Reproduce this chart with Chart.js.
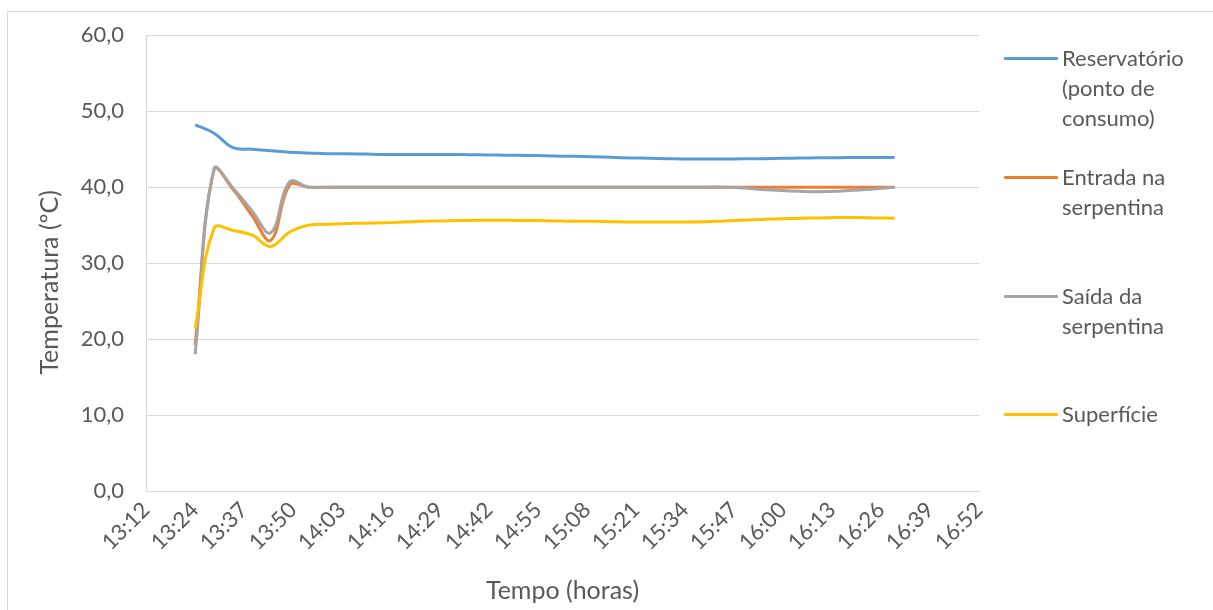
<!DOCTYPE html>
<html>
<head>
<meta charset="utf-8">
<script src="https://cdn.jsdelivr.net/npm/chart.js@4/dist/chart.umd.min.js"></script>
<style>
  html, body { margin: 0; padding: 0; background: #fff; overflow: hidden; }
  #wrap { position: relative; width: 1213px; height: 610px; }
  #frame { position: absolute; left: 7px; top: 11px; width: 1300px; height: 700px; border: 1px solid #d9d9d9; }
  #chart { position: absolute; left: 0; top: 0; }
  .legend-item { position: absolute; left: 1004px; font-family: Lato, sans-serif; font-size: 22px; line-height: 30px; color: #595959; }
  .legend-item .swatch { position: absolute; left: 0; top: 14px; width: 54px; height: 3px; border-radius: 1px; }
  .legend-item .label { margin-left: 58px; }
</style>
</head>
<body>
<div id="wrap">
  <div id="frame"></div>
  <canvas id="chart" width="1213" height="610"></canvas>
  <div id="legend"></div>
</div>
<script>
// readings taken every 5 minutes
const times = ['13:25','13:30','13:35','13:40','13:45','13:50','13:55',
  '14:00','14:05','14:10','14:15','14:20','14:25','14:30','14:35','14:40','14:45','14:50','14:55',
  '15:00','15:05','15:10','15:15','15:20','15:25','15:30','15:35','15:40','15:45','15:50','15:55',
  '16:00','16:05','16:10','16:15','16:20','16:25','16:30'];

const reservatorio = [48.2, 47.1, 45.2, 45.0, 44.8, 44.6, 44.5,
  44.4, 44.4, 44.35, 44.3, 44.3, 44.3, 44.3, 44.28, 44.25, 44.22, 44.2, 44.15,
  44.1, 44.05, 44.0, 43.92, 43.85, 43.8, 43.75, 43.7, 43.7, 43.7, 43.72, 43.75,
  43.8, 43.83, 43.86, 43.88, 43.9, 43.9, 43.9];

const entrada = [19.2, 42.3, 39.7, 36.3, 33.0, 40.3, 40.0,
  40.0, 40.0, 40.0, 40.0, 40.0, 40.0, 40.0, 40.0, 40.0, 40.0, 40.0, 40.0,
  40.0, 40.0, 40.0, 40.0, 40.0, 40.0, 40.0, 40.0, 40.0, 40.0, 40.0, 40.0,
  40.0, 40.0, 40.0, 40.0, 40.0, 40.0, 40.0];

const saida = [18.0, 42.4, 39.9, 36.9, 34.0, 40.7, 40.0,
  40.0, 40.0, 40.0, 40.0, 40.0, 40.0, 40.0, 40.0, 40.0, 40.0, 40.0, 40.0,
  40.0, 40.0, 40.0, 40.0, 40.0, 40.0, 40.0, 40.0, 40.0, 40.0, 39.9, 39.7,
  39.55, 39.45, 39.4, 39.45, 39.6, 39.8, 40.0];

const superficie = [21.4, 34.6, 34.3, 33.7, 32.2, 34.1, 35.0,
  35.1, 35.2, 35.25, 35.3, 35.4, 35.5, 35.55, 35.6, 35.65, 35.65, 35.6, 35.6,
  35.55, 35.5, 35.5, 35.45, 35.4, 35.4, 35.4, 35.4, 35.45, 35.55, 35.65, 35.75,
  35.85, 35.9, 35.95, 36.0, 36.0, 35.95, 35.9];

const xTickLabels = ['13:12','13:24','13:37','13:50','14:03','14:16','14:29','14:42','14:55',
  '15:08','15:21','15:34','15:47','16:00','16:13','16:26','16:39','16:52'];
const xStepMinutes = 12.96; // excel major unit 0.009 day

const seriesNames = [['Reservatório', '(ponto de', 'consumo)'], ['Entrada na', 'serpentina'], ['Saída da', 'serpentina'], ['Superfície']];
const seriesColors = ['#5b9bd5', '#ed7d31', '#a5a5a5', '#ffc000'];

const textColor = '#595959';
const gridColor = '#d9d9d9';
const fontFamily = 'Lato, sans-serif';

function toMinutes(t) {
    const [h, m] = t.split(':').map(Number);
    return h * 60 + m;
}

const xMin = toMinutes(xTickLabels[0]);
const xMax = xMin + xStepMinutes * (xTickLabels.length - 1);

function makeDataset(values, idx) {
    return {
        label: seriesNames[idx].join(' '),
        data: values.map((v, i) => ({ x: toMinutes(times[i]), y: v })),
        borderColor: seriesColors[idx],
        backgroundColor: seriesColors[idx],
        borderWidth: 3,
        pointRadius: 0,
        tension: 0.4,
        fill: false,
        order: 4 - idx
    };
}

const ctx = document.getElementById('chart').getContext('2d');
new Chart(ctx, {
    type: 'line',
    data: {
        datasets: [reservatorio, entrada, saida, superficie].map(makeDataset)
    },
    options: {
        responsive: false,
        animation: false,
        layout: { padding: { left: 0, right: 234, top: 35, bottom: 0 } },
        plugins: {
            legend: { display: false },
            tooltip: { enabled: false }
        },
        scales: {
            x: {
                type: 'linear',
                min: xMin,
                max: xMax,
                afterBuildTicks: function(scale) {
                    scale.ticks = xTickLabels.map((l, i) => ({ value: xMin + i * xStepMinutes }));
                },
                afterFit: function(scale) { scale.height = 119; },
                grid: { display: false, drawTicks: false },
                border: { display: true, color: gridColor, width: 1 },
                ticks: {
                    autoSkip: false,
                    maxRotation: 45,
                    minRotation: 45,
                    padding: 6,
                    color: textColor,
                    font: { family: fontFamily, size: 22 },
                    callback: function(value, index) { return xTickLabels[index]; }
                },
                title: {
                    display: true,
                    text: 'Tempo (horas)',
                    color: textColor,
                    font: { family: fontFamily, size: 25 },
                    padding: { top: 0, bottom: 4 }
                }
            },
            y: {
                min: 0,
                max: 60,
                afterFit: function(scale) { scale.width = 146; },
                grid: { color: gridColor, lineWidth: 1, drawTicks: false },
                border: { display: true, color: gridColor, width: 1 },
                ticks: {
                    stepSize: 10,
                    padding: 22,
                    color: textColor,
                    font: { family: fontFamily, size: 22 },
                    callback: function(value) { return value.toFixed(1).replace('.', ','); }
                },
                title: {
                    display: true,
                    // trailing spaces push the visible text a little lower, as in the original
                    text: 'Temperatura (ºC)      ',
                    color: textColor,
                    font: { family: fontFamily, size: 25 },
                    padding: { top: 35, bottom: 0 }
                }
            }
        }
    }
});

// legend on the right, as in the original
const legendTops = [43, 162, 281, 399];
const legendEl = document.getElementById('legend');
seriesNames.forEach((lines, i) => {
    const item = document.createElement('div');
    item.className = 'legend-item';
    item.style.top = legendTops[i] + 'px';
    const sw = document.createElement('div');
    sw.className = 'swatch';
    sw.style.background = seriesColors[i];
    const lab = document.createElement('div');
    lab.className = 'label';
    lab.innerHTML = lines.join('<br>');
    item.appendChild(sw);
    item.appendChild(lab);
    legendEl.appendChild(item);
});
</script>
</body>
</html>
